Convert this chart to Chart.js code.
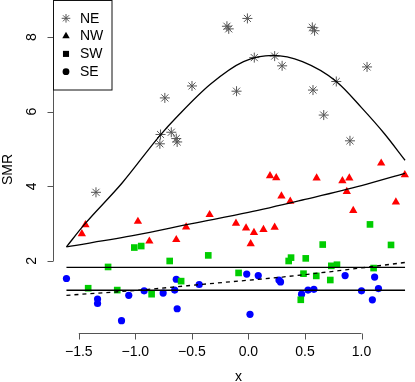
<!DOCTYPE html>
<html>
<head>
<meta charset="utf-8">
<script src="https://cdn.jsdelivr.net/npm/chart.js@4/dist/chart.umd.min.js"></script>
<style>
  html, body { margin: 0; padding: 0; background: #fff; }
  canvas { display: block; }
</style>
</head>
<body>
<canvas id="ShowChart" width="415" height="382"></canvas>
<script>
// points
var NE_x = [-1.348, -0.783, -0.777, -0.739, -0.682, -0.638, -0.630, -0.499, -0.190, -0.174, -0.105, -0.009, 0.052, 0.232, 0.298, 0.565, 0.571, 0.585, 0.666, 0.777, 0.898, 1.049]
var NE_y = [3.84, 5.14, 5.39, 6.37, 5.45, 5.28, 5.19, 6.69, 8.29, 8.22, 6.55, 8.50, 7.45, 7.49, 7.23, 8.26, 6.58, 8.17, 5.91, 6.81, 5.22, 7.20]

var NW_x = [-1.473, -1.441, -0.977, -0.876, -0.638, -0.551, -0.343, -0.110, -0.021, 0.020, 0.049, 0.133, 0.191, 0.232, 0.246, 0.292, 0.370, 0.603, 0.831, 0.870, 0.892, 0.927, 1.174, 1.304, 1.383]
var NW_y = [2.73, 2.97, 3.06, 2.53, 2.57, 2.91, 3.24, 3.01, 2.88, 2.46, 2.76, 2.84, 4.28, 2.90, 4.23, 3.74, 3.60, 4.22, 4.15, 3.86, 4.22, 3.35, 4.62, 3.58, 4.31]

var SW_x = [-1.417, -1.241, -1.160, -1.009, -0.948, -0.856, -0.696, -0.595, -0.355, -0.087, 0.356, 0.377, 0.463, 0.487, 0.507, 0.600, 0.657, 0.724, 0.733, 0.783, 1.075, 1.107, 1.261]
var SW_y = [1.27, 1.84, 1.22, 2.36, 2.40, 1.11, 2.00, 1.46, 2.15, 1.68, 2.00, 2.09, 0.96, 1.66, 2.07, 1.60, 2.44, 1.49, 1.87, 1.90, 2.98, 1.81, 2.43]

var SE_x = [-1.609, -1.334, -1.334, -1.122, -1.058, -0.922, -0.754, -0.652, -0.638, -0.630, -0.435, -0.015, 0.014, 0.087, 0.270, 0.284, 0.470, 0.527, 0.579, 0.855, 1.000, 1.096, 1.116, 1.150]
var SE_y = [1.53, 0.98, 0.86, 0.40, 1.08, 1.20, 1.14, 1.22, 1.51, 0.72, 1.37, 1.65, 0.57, 1.61, 1.49, 1.44, 1.11, 1.22, 1.24, 1.61, 1.20, 0.96, 1.57, 1.26]

// fitted curves
var NE_fit_x = [-1.609, -1.45, -1.117, -0.783, -0.623, -0.334, -0.043, 0.217, 0.478, 0.777, 1.0, 1.203, 1.385]
var NE_fit_y = [2.38, 2.98, 4.09, 5.36, 5.89, 6.74, 7.34, 7.51, 7.34, 6.81, 6.11, 5.41, 4.70]
var NW_fit_x = [-1.609, -1.0, -0.5, 0.0, 0.5, 1.0, 1.385]
var NW_fit_y = [2.38, 2.69, 3.00, 3.30, 3.65, 4.02, 4.35]
var SE_fit_x = [-1.609, -1.0, -0.35, 0.3, 0.8, 1.385]
var SE_fit_y = [1.08, 1.21, 1.39, 1.57, 1.74, 1.96]
var Level_x = [-1.609, 1.385]
var Level_hi = [1.83, 1.83]
var Level_lo = [1.215, 1.215]

var Legend_labels = ["NE", "NW", "SW", "SE"]
var Legend_styles = ["star", "triangle", "rect", "circle"]
var X_ticks = [-1.5, -1.0, -0.5, 0.0, 0.5, 1.0]
var X_tick_labels = ["\u22121.5", "\u22121.0", "\u22120.5", "0.0", "0.5", "1.0"]
var Y_ticks = [2, 4, 6, 8]
var Y_tick_labels = ["2", "4", "6", "8"]

var STAR_COLOR = "#555555"

function toXY(xs, ys){
  var out = []
  for (var i = 0; i < xs.length; i++){ out.push({x: xs[i], y: ys[i]}) }
  return out
}

function lineSet(xs, ys, dash){
  return {
    data: toXY(xs, ys),
    showLine: true,
    pointRadius: 0,
    borderColor: "#000",
    borderWidth: 1.3,
    borderDash: dash || [],
    cubicInterpolationMode: "monotone",
    fill: false
  }
}

function pointSet(xs, ys, style, color, r){
  return {
    data: toXY(xs, ys),
    showLine: false,
    pointStyle: style,
    pointRadius: r,
    backgroundColor: color,
    borderColor: color,
    borderWidth: style == "star" ? 1 : 0
  }
}

var FONT = "14px 'Liberation Sans', Arial, sans-serif"

var R_axes = {
  id: "r_axes",
  afterDraw: function(chart){
    var c = chart.ctx, xs = chart.scales.x, ys = chart.scales.y, area = chart.chartArea
    c.save()
    c.strokeStyle = "#555"
    c.lineWidth = 1
    c.fillStyle = "#000"
    c.font = FONT
    // x axis
    var yAx = 333.5
    c.beginPath()
    c.moveTo(xs.getPixelForValue(X_ticks[0]), yAx)
    c.lineTo(xs.getPixelForValue(X_ticks[X_ticks.length - 1]), yAx)
    for (var i = 0; i < X_ticks.length; i++){
      var px = Math.round(xs.getPixelForValue(X_ticks[i])) + 0.5
      c.moveTo(px, yAx)
      c.lineTo(px, yAx + 6)
    }
    c.stroke()
    c.textAlign = "center"
    c.textBaseline = "middle"
    for (var i = 0; i < X_ticks.length; i++){
      c.fillText(X_tick_labels[i], xs.getPixelForValue(X_ticks[i]), 352)
    }
    c.textBaseline = "alphabetic"
    c.fillText("x", 238.5, 380.5)
    // y axis
    var xAx = 53.5
    c.beginPath()
    c.moveTo(xAx, ys.getPixelForValue(Y_ticks[0]))
    c.lineTo(xAx, ys.getPixelForValue(Y_ticks[Y_ticks.length - 1]))
    for (var i = 0; i < Y_ticks.length; i++){
      var py = Math.round(ys.getPixelForValue(Y_ticks[i])) + 0.5
      c.moveTo(xAx, py)
      c.lineTo(xAx - 6, py)
    }
    c.stroke()
    c.textBaseline = "middle"
    for (var i = 0; i < Y_ticks.length; i++){
      c.save()
      c.translate(32, ys.getPixelForValue(Y_ticks[i]))
      c.rotate(-Math.PI / 2)
      c.fillText(Y_tick_labels[i], 0, 0)
      c.restore()
    }
    c.save()
    c.translate(8, (area.top + area.bottom) / 2)
    c.rotate(-Math.PI / 2)
    c.fillText("SMR", 0, 0)
    c.restore()
    // legend
    c.strokeStyle = "#111"
    c.strokeRect(53.5, 0.5, 58.5, 89.5)
    c.textAlign = "left"
    for (var i = 0; i < Legend_labels.length; i++){
      var ly = 18.3 + i * 17.8
      var isStar = Legend_styles[i] == "star"
      c.fillStyle = isStar ? STAR_COLOR : "#000"
      c.strokeStyle = c.fillStyle
      c.lineWidth = 1
      Chart.helpers.drawPoint(c, {
        pointStyle: Legend_styles[i],
        radius: Legend_styles[i] == "circle" ? 3.4 : 4.3,
        rotation: 0,
        borderWidth: isStar ? 1 : 0
      }, 66, ly)
      c.fillStyle = "#000"
      c.fillText(Legend_labels[i], 80, ly + 0.5)
    }
    c.restore()
  }
}

var ctx = document.getElementById("ShowChart").getContext("2d")
var ChartObject = new Chart(ctx, {
  type: "scatter",
  data: {
    datasets: [
      lineSet(NE_fit_x, NE_fit_y),
      lineSet(NW_fit_x, NW_fit_y),
      lineSet(Level_x, Level_hi),
      lineSet(Level_x, Level_lo),
      lineSet(SE_fit_x, SE_fit_y, [4, 4]),
      pointSet(NE_x, NE_y, "star", STAR_COLOR, 5),
      pointSet(NW_x, NW_y, "triangle", "#ff0000", 4.8),
      pointSet(SW_x, SW_y, "rect", "#00cd00", 4.7),
      pointSet(SE_x, SE_y, "circle", "#0000ff", 3.6)
    ]
  },
  options: {
    responsive: false,
    animation: false,
    devicePixelRatio: 1,
    layout: { padding: { left: 53, right: 0, top: 0, bottom: 49 } },
    plugins: { legend: { display: false }, tooltip: { enabled: false } },
    scales: {
      x: { type: "linear", min: -1.728, max: 1.42, display: false },
      y: { type: "linear", min: 0.07, max: 8.833, display: false }
    }
  },
  plugins: [R_axes]
})
</script>
</body>
</html>
